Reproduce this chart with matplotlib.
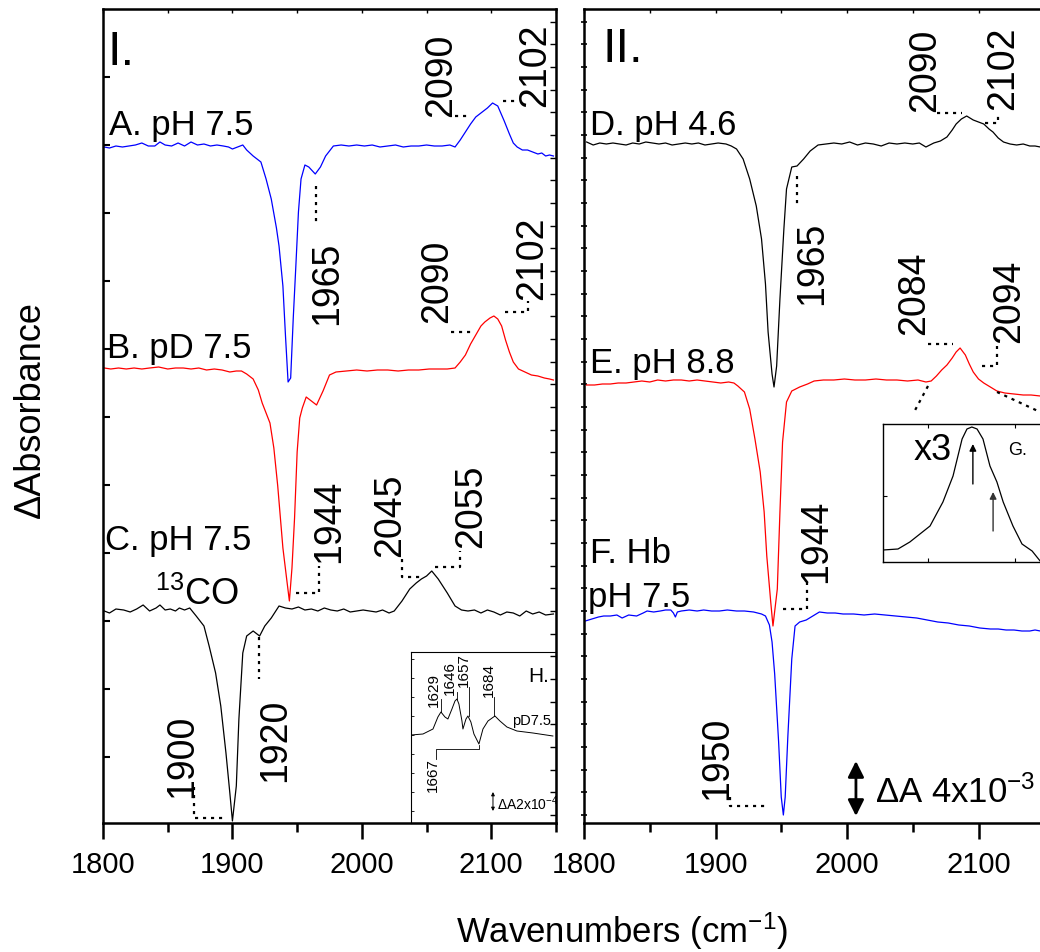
import matplotlib
matplotlib.use("Agg")
import matplotlib.pyplot as plt
from matplotlib.ticker import MultipleLocator, NullFormatter
import numpy as np

plt.rcParams['font.family'] = ['Liberation Sans', 'DejaVu Sans']
plt.rcParams['mathtext.fontset'] = 'custom'
plt.rcParams['mathtext.rm'] = 'Liberation Sans'
plt.rcParams['mathtext.it'] = 'Liberation Sans:italic'
plt.rcParams['mathtext.default'] = 'regular'

# ---- spectra (values relative to each baseline, a.u.; 55 a.u. = 4x10^-3) ----
wn_A = [1801, 1805, 1810, 1815, 1820, 1825, 1830, 1835, 1840, 1844, 1848, 1853, 1858, 1863, 1868,
        1873, 1878, 1883, 1888, 1893, 1897, 1900, 1904, 1908, 1911, 1916, 1922, 1926, 1930, 1934,
        1936, 1939, 1941, 1943, 1945, 1947, 1949, 1951, 1953, 1956, 1959, 1964, 1968, 1972, 1978,
        1984, 1990, 1996, 2002, 2008, 2014, 2020, 2026, 2032, 2038, 2044, 2050, 2056, 2062, 2068,
        2072, 2076, 2080, 2084, 2088, 2093, 2097, 2101, 2105, 2110, 2114, 2117, 2120, 2124, 2128,
        2132, 2136, 2139, 2142, 2145, 2148]
dA_A = [-1, -2, 0, -1, 0, 1, 3, 0, 0, 4, 1, 0, 3, 0, 4,
        1, 2, 0, 1, 0, -1, -3, -1, 1, -4, -10, -16, -33, -53, -82,
        -100, -140, -190, -236, -232, -172, -120, -66, -33, -19, -21, -28, -21, -10, 0,
        1, 0, 1, 0, 1, -1, 0, 1, -1, 0, 0, 1, 0, 0, 1,
        -1, 6, 14, 22, 29, 34, 38, 43, 40, 25, 12, 3, -1, -4, -4,
        -6, -8, -7, -10, -9, -10]

wn_B = [1801, 1806, 1812, 1818, 1824, 1830, 1836, 1843, 1850, 1856, 1862, 1868, 1874, 1880, 1886,
        1892, 1898, 1903, 1907, 1911, 1916, 1920, 1923, 1926, 1929, 1932, 1935, 1939, 1942, 1944,
        1946, 1948, 1950, 1952, 1954, 1957, 1961, 1965, 1970, 1975, 1980, 1988, 1996, 2004, 2012,
        2020, 2028, 2036, 2044, 2052, 2060, 2066, 2072, 2076, 2080, 2084, 2088, 2092, 2095, 2099,
        2102, 2105, 2108, 2111, 2114, 2117, 2121, 2126, 2131, 2136, 2141, 2145, 2148]
dA_B = [0, -1, 0, -1, 0, -1, 0, 1, -1, 0, 0, -1, 0, -2, -1,
        -2, -4, -3, -3, -6, -11, -22, -35, -45, -55, -80, -118, -180, -212, -233,
        -200, -150, -84, -50, -40, -29, -33, -37, -23, -7, -4, -3, -2, -3, -2,
        -2, -3, -2, -2, -1, -1, -1, 0, 6, 13, 24, 33, 42, 46, 50,
        52, 49, 42, 28, 16, 6, -1, -4, -7, -8, -10, -11, -12]

wn_C = [1801, 1805, 1810, 1816, 1821, 1826, 1831, 1836, 1841, 1844, 1848, 1852, 1856, 1859, 1863,
        1867, 1872, 1878, 1882, 1887, 1891, 1895, 1898, 1900, 1903, 1905, 1908, 1911, 1916, 1921,
        1925, 1930, 1936, 1941, 1946, 1951, 1956, 1961, 1966, 1971, 1976, 1981, 1986, 1991, 1996,
        2001, 2006, 2011, 2016, 2021, 2025, 2031, 2037, 2042, 2046, 2050, 2054, 2059, 2066, 2072,
        2077, 2082, 2087, 2092, 2097, 2102, 2107, 2112, 2117, 2122, 2127, 2132, 2137, 2142, 2148]
dA_C = [0, -2, 2, 1, -1, 2, 6, 0, 3, 6, 1, 2, 0, 3, 1,
        3, -5, -15, -35, -62, -95, -142, -182, -210, -175, -108, -42, -25, -20, -25,
        -15, -7, 5, 3, 2, 4, 1, 2, 0, 3, 1, 0, 2, -1, 0,
        1, 0, -1, 1, -2, 0, 10, 22, 28, 32, 35, 40, 32, 18, 5,
        1, 0, 1, -2, 1, -1, -4, -1, -2, -5, 0, -3, -1, -4, -3]

wn_D = [1802, 1807, 1812, 1817, 1822, 1827, 1832, 1837, 1842, 1847, 1852, 1857, 1862, 1867, 1872,
        1877, 1882, 1887, 1892, 1897, 1902, 1908, 1912, 1916, 1921, 1926, 1931, 1935, 1938, 1940,
        1943, 1944.5, 1946.5, 1949, 1952, 1954, 1958, 1962, 1967, 1972, 1978, 1984, 1990, 1996, 2002,
        2008, 2014, 2020, 2026, 2032, 2038, 2044, 2050, 2055, 2060, 2066, 2071, 2076, 2080, 2083,
        2087, 2091, 2096, 2100, 2104, 2108, 2111, 2115, 2119, 2124, 2129, 2134, 2139, 2143, 2147]
dA_D = [2, -1, 1, 0, 1, 0, -1, 1, 0, 2, 1, 0, 1, -1, 0,
        1, 0, 1, -1, 0, 1, 0, -2, -5, -15, -35, -62, -95, -140, -188,
        -230, -243, -222, -155, -85, -45, -23, -22, -15, -7, -1, 0, 1, 0, 2,
        -1, 1, 0, -2, 1, 0, 1, 0, 1, -3, 1, 3, 7, 14, 20,
        25, 28, 24, 22, 20, 15, 12, 6, 2, 0, -1, 0, -2, -2, -3]

wn_E = [1802, 1808, 1814, 1820, 1826, 1832, 1838, 1844, 1850, 1856, 1862, 1868, 1874, 1880, 1886,
        1892, 1898, 1904, 1910, 1914, 1917, 1922, 1926, 1930, 1934, 1937, 1939, 1942, 1943.7, 1947,
        1949, 1951, 1954, 1958, 1964, 1970, 1975, 1982, 1990, 1998, 2006, 2014, 2022, 2030, 2038,
        2046, 2054, 2060, 2064, 2068, 2072, 2076, 2080, 2083, 2086, 2090, 2093, 2096, 2100, 2104,
        2109, 2114, 2120, 2127, 2134, 2140, 2147]
dA_E = [-3, -3, -2, -2, -1, -1, 0, 1, 0, 2, 1, 2, 2, 1, 2,
        1, 0, -1, 0, -1, -4, -10, -27, -57, -90, -130, -174, -220, -244, -207,
        -130, -60, -20, -9, -5, -2, 1, 2, 2, 3, 2, 2, 3, 2, 2,
        1, 2, 0, 1, 6, 12, 17, 24, 30, 34, 27, 18, 10, 3, -1,
        -5, -9, -11, -12, -13, -13, -14]

wn_F = [1801, 1806, 1811, 1815, 1820, 1825, 1829, 1834, 1840, 1845, 1848, 1853, 1858, 1862, 1866,
        1868, 1869.5, 1871, 1874, 1880, 1886, 1891, 1897, 1903, 1909, 1916, 1922, 1929, 1935, 1938,
        1941, 1943, 1945, 1948, 1950, 1951.6, 1953, 1955, 1958, 1960.5, 1964, 1969, 1974, 1979, 1985,
        1991, 1997, 2005, 2013, 2021, 2029, 2037, 2045, 2053, 2061, 2069, 2077, 2085, 2093, 2101,
        2109, 2115, 2121, 2127, 2133, 2139, 2143, 2147]
dA_F = [-9, -7, -5, -4, -4, -3, -6, -3, -4, -1, 1, 0, 1, 2, 2,
        -1, -5, 0, 1, 2, 1, 2, 1, 1, 2, 1, 1, 0, -2, -4,
        -13, -30, -62, -130, -185, -203, -185, -125, -47, -14, -10, -8, -4, 0, -1,
        -1, -2, -2, -3, -2, -3, -4, -5, -6, -8, -10, -11, -13, -14, -16,
        -17, -17, -18, -18, -19, -19, -18, -19]

# baselines of the stacked traces (a.u. above the x axis)
base = {'A': 677, 'B': 455, 'C': 212, 'D': 679, 'E': 441, 'F': 211}

# inset G: E-band x3
wn_G = [2062.1, 2066.4, 2069.8, 2075.6, 2079.3, 2082.2, 2084.8, 2086.2, 2087.6, 2089.1, 2090.8,
        2092.8, 2094.8, 2096.6, 2099.4, 2102.0, 2104.9, 2107.2]
dA_G = [12, 13, 20, 36, 60, 86, 123, 133, 135, 133, 123, 96, 80, 60, 36, 18, 11, 1]

# inset H: amide region pD 7.5
wn_H = [1598.5, 1610.7, 1620.9, 1625.9, 1629, 1633.1, 1636.1, 1640.2, 1643.3, 1645.3, 1647.3,
        1650.4, 1651.4, 1654.5, 1656.5, 1659.5, 1662.6, 1667.7, 1671.8, 1676.9, 1684, 1689.1,
        1696.2, 1706.4, 1722.7, 1743]
dA_H = [88, 89, 94, 106, 111, 106, 104, 114, 122, 124, 119, 102, 94, 104, 107, 101, 89, 79, 94,
        102, 107, 102, 96, 92, 90, 87]

DOT = (0, (1.4, 2.2))
NUM = 27
LAB = 25


def leader(ax, xs, ys):
    ax.plot(xs, ys, color='k', lw=1.6, ls=DOT)


def vlabel(ax, x, y, s, size=NUM, va='bottom'):
    ax.text(x, y, s, rotation=90, ha='center', va=va, fontsize=size)


fig = plt.figure(figsize=(10.4, 9.53), dpi=100)
ax1 = fig.add_axes([103 / 1040, 1 - 824 / 953, 453 / 1040, 814 / 953])
ax2 = fig.add_axes([584 / 1040, 1 - 824 / 953, 350 * 1.315 / 1040, 814 / 953])

for ax in (ax1, ax2):
    ax.set_xlim(1800, 2150)
    ax.set_ylim(0, 814)
    for s in ax.spines.values():
        s.set_linewidth(1.8)
    ax.xaxis.set_major_locator(MultipleLocator(100))
    ax.xaxis.set_minor_locator(MultipleLocator(50))
    ax.tick_params(axis='x', which='major', direction='out', length=11.5, width=1.8,
                   labelsize=21, pad=8, top=False)
    ax.tick_params(axis='x', which='minor', direction='out', length=6.5, width=1.8, top=False)
    top = ax.secondary_xaxis('top')
    top.set_xticks(np.arange(1800, 2151, 50))
    top.xaxis.set_major_formatter(NullFormatter())
    top.tick_params(direction='in', length=3, width=1)

ax1.set_yticks(np.arange(66, 814, 68))
ax1.tick_params(axis='y', direction='in', length=5, width=1.5, labelleft=False, right=False)
right1 = ax1.secondary_yaxis('right')
right1.set_yticks(np.arange(8, 814, 68 / 3))
right1.yaxis.set_major_formatter(NullFormatter())
right1.tick_params(direction='in', length=4, width=1)

ax2.set_yticks(np.arange(8, 814, 68 / 3))
ax2.tick_params(axis='y', direction='inout', length=5, width=1.2, labelleft=False, right=False)

# ---- panel I ----
ax1.plot(wn_A, np.array(dA_A) + base['A'], color='#0000ff', lw=0.9)
ax1.plot(wn_C, np.array(dA_C) + base['C'], color='k', lw=0.9)
ax1.plot(wn_B, np.array(dA_B) + base['B'], color='#ff0000', lw=0.9)

ax1.text(1803.5, 759, 'I.', fontsize=35)
ax1.text(1804.5, 689, 'A. pH 7.5', fontsize=LAB)
ax1.text(1803, 466, 'B. pD 7.5', fontsize=LAB)
ax1.text(1801.5, 274, 'C. pH 7.5', fontsize=LAB)
ax1.text(1840, 219, '$^{13}$CO', fontsize=LAB + 1)

vlabel(ax1, 2061.5, 707, '2090')
leader(ax1, [2072, 2081], [707, 707])
vlabel(ax1, 2133.8, 717, '2102')
leader(ax1, [2109, 2121], [722, 722])
vlabel(ax1, 1973, 499, '1965')
leader(ax1, [1964.3, 1964.3], [637, 597])

vlabel(ax1, 2058.5, 501, '2090')
leader(ax1, [2068.5, 2087.7], [491, 491])
vlabel(ax1, 2131.5, 524, '2102')
leader(ax1, [2110.8, 2128.5, 2128.5], [511, 511, 522])

vlabel(ax1, 1974.6, 261, '1944')
leader(ax1, [1949, 1966.9, 1966.9], [230, 230, 257])
vlabel(ax1, 2021.9, 267, '2045')
leader(ax1, [2030.8, 2030.8, 2046.2], [264, 246, 246])
vlabel(ax1, 2084.2, 276, '2055')
leader(ax1, [2056.7, 2075.9, 2075.9], [256, 256, 272])
vlabel(ax1, 1933, 42, '1920')
leader(ax1, [1920.8, 1920.8], [186, 144])
vlabel(ax1, 1861.2, 26, '1900')
leader(ax1, [1870.3, 1870.3, 1892.6], [36, 5, 5])

# ---- panel II ----
ax2.plot(wn_D, np.array(dA_D) + base['D'], color='k', lw=0.9)
ax2.plot(wn_F, np.array(dA_F) + base['F'], color='#0000ff', lw=0.9)
ax2.plot(wn_E, np.array(dA_E) + base['E'], color='#ff0000', lw=0.9)

ax2.text(1814.4, 762, 'II.', fontsize=35)
ax2.text(1804.6, 689, 'D. pH 4.6', fontsize=LAB)
ax2.text(1804.6, 451, 'E. pH 8.8', fontsize=LAB)
ax2.text(1804.6, 261, 'F. Hb', fontsize=LAB)
ax2.text(1803, 217, 'pH 7.5', fontsize=LAB)

vlabel(ax2, 2059.3, 712, '2090')
leader(ax2, [2068.4, 2087.5], [710, 710])
vlabel(ax2, 2119, 714, '2102')
leader(ax2, [2105, 2114.8, 2114.8], [700, 700, 710])
vlabel(ax2, 1973.4, 519, '1965')
leader(ax2, [1962, 1962], [647, 619])

vlabel(ax2, 2051, 489, '2084')
leader(ax2, [2061.6, 2080.6], [479, 479])
vlabel(ax2, 2123.2, 481, '2094')
leader(ax2, [2102.7, 2114.1, 2114.1], [457, 457, 477])
leader(ax2, [2061.6, 2050.2], [437, 409])
leader(ax2, [2114.1, 2146.8], [431, 411])

vlabel(ax2, 1976.4, 241, '1944')
leader(ax2, [1951.3, 1969.6, 1969.6], [214, 214, 244])
vlabel(ax2, 1901.1, 24, '1950')
leader(ax2, [1911, 1911, 1939.9], [26, 17, 17])

ax2.annotate('', xy=(2006.8, 62), xytext=(2006.8, 7),
             arrowprops=dict(arrowstyle='<|-|>', mutation_scale=24, lw=2, color='k',
                             shrinkA=0, shrinkB=0))
ax2.text(2021.3, 21, 'ΔA 4x10$^{-3}$', fontsize=LAB)

# ---- inset G ----
axG = fig.add_axes([883 / 1040, 1 - 563 / 953, 162 / 1040, 138 / 953])
axG.set_facecolor('none')
axG.set_xlim(2062.1, 2108.6)
axG.set_ylim(0, 138)
axG.plot(wn_G, dA_G, color='k', lw=0.9)
for s in axG.spines.values():
    s.set_linewidth(1)
axG.set_xticks([2075, 2100])
axG.set_yticks([66])
axG.tick_params(direction='in', length=3, width=0.8, top=True, labelbottom=False, labelleft=False)
axG.text(2070.8, 103, 'x3', fontsize=26)
axG.text(2098, 108, 'G.', fontsize=13)
axG.annotate('', xy=(2087.9, 118), xytext=(2087.9, 78),
             arrowprops=dict(arrowstyle='-|>', mutation_scale=10, lw=1, color='k',
                             shrinkA=0, shrinkB=0))
axG.annotate('', xy=(2093.7, 70), xytext=(2093.7, 31),
             arrowprops=dict(arrowstyle='-|>', mutation_scale=10, lw=1, color='#333333',
                             shrinkA=0, shrinkB=0))

# ---- inset H ----
axH = fig.add_axes([411 / 1040, 1 - 824 / 953, 145 / 1040, 171 / 953])
axH.set_facecolor('none')
axH.set_xlim(1598.5, 1746.2)
axH.set_ylim(0, 171)
axH.plot(wn_H, dA_H, color='k', lw=0.7)
for s in axH.spines.values():
    s.set_linewidth(0.8)
axH.set_xticks([])
axH.set_yticks(np.arange(12, 171, 19))
axH.tick_params(axis='y', direction='in', length=2.5, width=0.6, labelleft=False)
axH.text(1717.6, 142, 'H.', fontsize=15)
axH.text(1701.3, 99, 'pD7.5', fontsize=10.5)
for x, y, s in [(1621.4, 117, '1629'), (1638.2, 129, '1646'), (1652.4, 137, '1657'),
                (1677.9, 127, '1684')]:
    vlabel(axH, x, y, s, size=11)
vlabel(axH, 1620.3, 66, '1667', size=11, va='top')
for x, y0, y1 in [(1629, 111, 124), (1645.3, 124, 131), (1657.5, 107, 136), (1683, 107, 126)]:
    axH.plot([x, x], [y0, y1], color='k', lw=0.6)
axH.plot([1667.7, 1667.7, 1623.9, 1623.9], [78, 74, 74, 64], color='k', lw=0.6)
axH.annotate('', xy=(1682, 31), xytext=(1682, 12),
             arrowprops=dict(arrowstyle='<|-|>', mutation_scale=5, lw=0.7, color='k',
                             shrinkA=0, shrinkB=0))
axH.text(1686, 14, 'ΔA2x10$^{-4}$', fontsize=10)

fig.text(30 / 1040, 1 - 410 / 953, 'ΔAbsorbance', rotation=90, ha='center', va='center',
         fontsize=26)
fig.text(622 / 1040, 1 - 943 / 953, 'Wavenumbers (cm$^{-1}$)', ha='center', va='baseline',
         fontsize=25)

fig.savefig('out.png', dpi=100)
